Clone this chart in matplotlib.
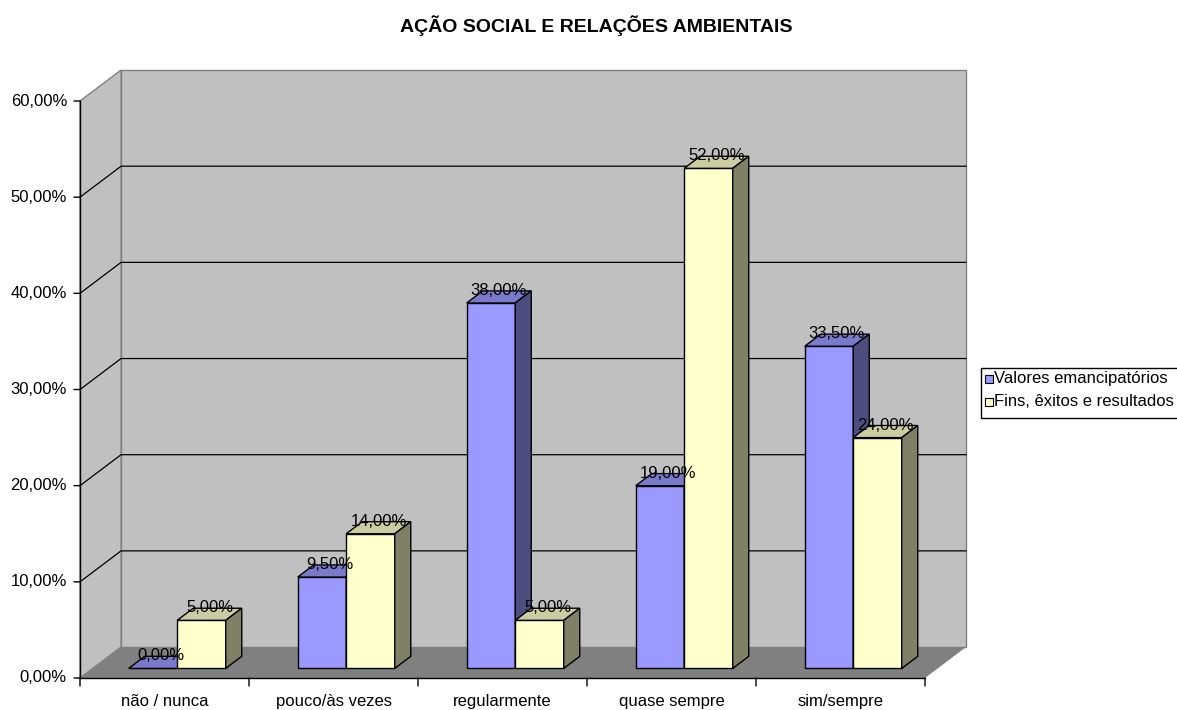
"""
Pseudo-3D grouped bar chart (Excel style): social action and environmental relations.
"""

import matplotlib.pyplot as plt
from matplotlib.patches import Polygon, Rectangle

plt.rcParams["font.family"] = ["Liberation Sans", "DejaVu Sans"]

# Data
categories = ["não / nunca", "pouco/às vezes", "regularmente", "quase sempre", "sim/sempre"]
series_names = ["Valores emancipatórios", "Fins, êxitos e resultados"]
valores = [0.0, 9.5, 38.0, 19.0, 33.5]
fins = [5.0, 14.0, 5.0, 52.0, 24.0]
y_ticks = [0, 10, 20, 30, 40, 50, 60]

# Styling
W, H = 1177, 710
FS = 12
front_colors = ["#9999FF", "#FFFFCC"]
top_colors = ["#7A7ACC", "#CCCCA3"]
side_colors = ["#4D4D80", "#808066"]
DEPTH_X = 0.243  # depth offset of the walls in category units
DEPTH_Y = 3.22  # depth offset of the walls in percent units
BAR_W = 0.287
BAR_D0, BAR_D1 = 0.31, 0.70  # bar depth range as fraction of wall depth


def px(x, y):
    return x / W, 1 - y / H


fig = plt.figure(figsize=(W / 100, H / 100), dpi=100)
left, bottom = px(80, 678)
ax = fig.add_axes([left, bottom, 845 / W, 577 / H])
ax.set_xlim(-0.5, len(categories) - 0.5)
ax.set_ylim(0, 60)
ax.set_axis_off()

x0, x1 = -0.5, len(categories) - 0.5
ymax = y_ticks[-1]


def poly(pts, fc, ec, lw=1.0, z=1):
    ax.add_patch(Polygon(pts, closed=True, facecolor=fc, edgecolor=ec,
                         linewidth=lw, zorder=z, clip_on=False))


# walls and floor
dx, dy = DEPTH_X, DEPTH_Y
poly([(x0 + dx, dy), (x1 + dx, dy), (x1 + dx, ymax + dy), (x0 + dx, ymax + dy)],
     "#C0C0C0", "#808080")
poly([(x0, 0), (x0 + dx, dy), (x0 + dx, ymax + dy), (x0, ymax)], "#C0C0C0", "#808080")
poly([(x0, 0), (x1, 0), (x1 + dx, dy), (x0 + dx, dy)], "#808080", "none")

# gridlines
for t in y_ticks[1:-1]:
    ax.plot([x0, x0 + dx, x1 + dx], [t, t + dy, t + dy], color="black", lw=0.9,
            zorder=2, clip_on=False)

# axes lines and ticks
ax.plot([x0, x0], [0, ymax], color="black", lw=1.0, zorder=2, clip_on=False)
ax.plot([x0, x1], [0, 0], color="black", lw=1.0, zorder=2, clip_on=False)
for t in y_ticks:
    ax.annotate("", xy=(x0, t), xytext=(-6, 0), textcoords="offset pixels",
                arrowprops=dict(arrowstyle="-", color="black", lw=1.0,
                                shrinkA=0, shrinkB=0))
    ax.annotate(f"{t:.2f}".replace(".", ",") + "%", xy=(x0, t), xytext=(-13, 0),
                textcoords="offset pixels", ha="right", va="center", fontsize=FS)
for i in range(len(categories) + 1):
    ax.annotate("", xy=(x0 + i, 0), xytext=(0, -8), textcoords="offset pixels",
                arrowprops=dict(arrowstyle="-", color="black", lw=1.0,
                                shrinkA=0, shrinkB=0))
for i, c in enumerate(categories):
    ax.annotate(c, xy=(i, 0), xytext=(0, -28), textcoords="offset pixels",
                ha="center", va="baseline", fontsize=FS)

# bars
for i in range(len(categories)):
    for s, vals in enumerate([valores, fins]):
        h = vals[i]
        xl = i - BAR_W + s * BAR_W
        xr = xl + BAR_W
        ox0, oy0 = dx * BAR_D0, dy * BAR_D0
        ox1, oy1 = dx * BAR_D1, dy * BAR_D1
        z = 3 + i * 2 + s
        # front
        poly([(xl + ox0, oy0), (xr + ox0, oy0), (xr + ox0, h + oy0), (xl + ox0, h + oy0)],
             front_colors[s], "black", z=z)
        # top
        poly([(xl + ox0, h + oy0), (xr + ox0, h + oy0), (xr + ox1, h + oy1), (xl + ox1, h + oy1)],
             top_colors[s], "black", z=z)
        # side
        poly([(xr + ox0, oy0), (xr + ox1, oy1), (xr + ox1, h + oy1), (xr + ox0, h + oy0)],
             side_colors[s], "black", z=z)

# data labels
for s, vals in enumerate([valores, fins]):
    for i, h in enumerate(vals):
        xc = i - BAR_W / 2 + s * BAR_W + dx * (BAR_D0 + BAR_D1) / 2
        yc = h + dy * (BAR_D0 + BAR_D1) / 2
        ax.annotate(f"{h:.2f}".replace(".", ",") + "%", xy=(xc, yc), xytext=(0, 2),
                    textcoords="offset pixels", ha="center", va="baseline",
                    fontsize=FS, zorder=50, annotation_clip=False)

# title
fig.text(*px(596, 31.5), "AÇÃO SOCIAL E RELAÇÕES AMBIENTAIS", ha="center",
         va="baseline", fontsize=14, fontweight="bold")

# legend
lx, ly = px(981, 418)
fig.patches.append(Rectangle((lx, ly), 220 / W, 50 / H, transform=fig.transFigure,
                             facecolor="white", edgecolor="black", lw=1.0))
for s, name in enumerate(series_names):
    row_y = 379 + s * 23
    sx, sy = px(985, row_y + 4)
    fig.patches.append(Rectangle((sx, sy), 8 / W, 8 / H, transform=fig.transFigure,
                                 facecolor=front_colors[s], edgecolor="black", lw=0.8))
    fig.text(*px(994, row_y), name, ha="left", va="center", fontsize=FS)

fig.savefig("out.png", dpi=100)
